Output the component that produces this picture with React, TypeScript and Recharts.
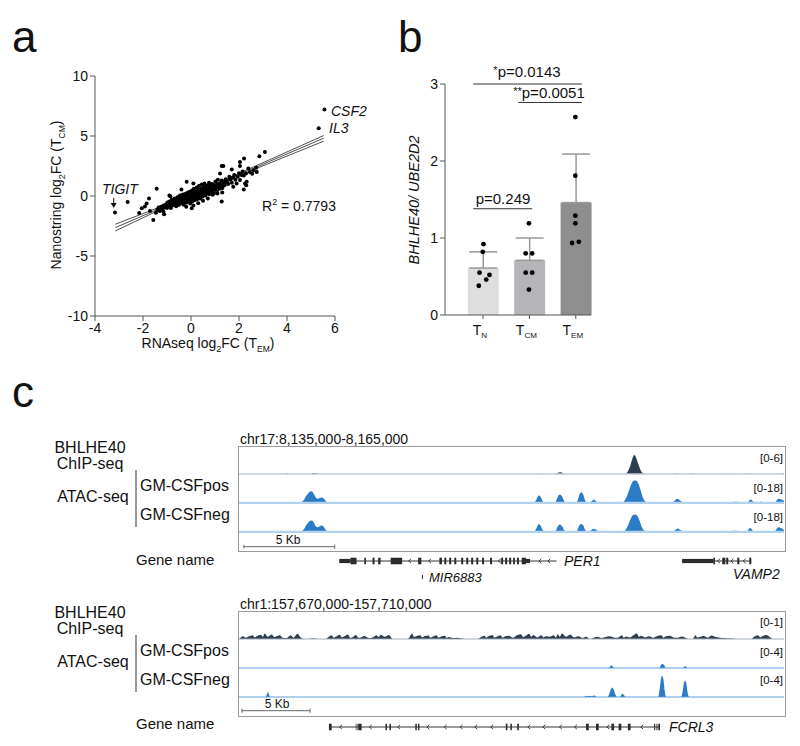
import React from 'react';
import {
  ComposedChart, AreaChart, Area, Scatter, Bar, Cell, ErrorBar,
  XAxis, YAxis, ReferenceLine, ReferenceArea,
} from 'recharts';

const FONT = '"Liberation Sans", Arial, Helvetica, sans-serif';
const INK = '#111';

/* ======================= panel a : data ======================= */
const xTicksA = [-4, -2, 0, 2, 4, 6];
const yTicksA = [-10, -5, 0, 5, 10];
// [RNAseq log2FC, Nanostring log2FC]
const labelledGenes = [[5.56, 7.2], [5.32, 5.65], [-3.17, -1.38]]; // CSF2, IL3, TIGIT
const leftGenes = [
  [-2.64, -0.5], [-2.16, -1.42], [-2.05, -1.02], [-1.92, -0.88], [-1.85, -0.62], [-1.75, -0.2],
  [-1.71, -1.25], [-1.57, -2.0], [-1.46, -1.4], [-1.43, 0.6], [-1.4, -1.15], [-1.35, -0.95],
  [-1.3, -1.25], [-1.3, -1.05], [-1.25, -0.9], [-1.22, -1.05], [-1.2, -1.15], [-1.15, -1.3],
  [-1.15, -0.8], [-1.12, -1.52], [-1.1, -0.95], [-1.05, -0.7], [-1.0, -1.0], [-0.98, -0.55],
  [-0.95, -0.85], [-0.9, 0.05], [-0.9, -0.45], [-0.88, -0.7], [-0.86, -0.02], [-0.85, -0.95], [-0.84, -1.0],
];
const centreGenes = [
  [-0.82, -0.55], [-0.8, -0.3], [-0.78, -0.8], [-0.75, -0.62], [-0.72, -0.4], [-0.7, -0.7], [-0.68, -0.2],
  [-0.65, -0.55], [-0.62, -0.85], [-0.6, -0.35], [-0.58, -0.6], [-0.56, -0.1], [-0.55, -0.45], [-0.52, -0.75],
  [-0.5, -0.3], [-0.48, -0.5], [-0.46, 0.05], [-0.45, -0.65], [-0.42, -0.2], [-0.4, -0.4], [-0.4, 0.55],
  [-0.38, -0.55], [-0.36, 0.1], [-0.35, -0.3], [-0.33, -0.1], [-0.3, -0.45], [-0.3, -0.72], [-0.28, 0.15],
  [-0.26, -0.25], [-0.25, -0.05], [-0.22, -0.4], [-0.2, 0.2], [-0.2, -0.15], [-0.2, -0.9], [-0.18, -0.55],
  [-0.18, 1.19], [-0.15, 0.0], [-0.14, -0.3], [-0.12, 0.3], [-0.1, -0.1], [-0.1, -0.45], [-0.08, 0.1],
  [-0.06, -0.2], [-0.05, 0.35], [-0.04, -0.62], [-0.02, 0.05], [0.0, -0.3], [0.0, 0.2], [0.02, -0.1],
  [0.03, -1.02], [0.04, 0.45], [0.05, -0.45], [0.06, 0.1], [0.08, -0.2], [0.1, 0.3], [0.1, -0.05],
  [0.1, 1.05], [0.1, -0.8], [0.12, 0.6], [0.14, -0.35], [0.15, 0.15], [0.16, 0.0], [0.18, 0.4],
  [0.2, -0.15], [0.2, 0.25], [0.22, 0.05], [0.24, 0.7], [0.25, -0.3], [0.26, 0.35], [0.28, 0.15],
  [0.3, 0.5], [0.3, -0.1], [0.3, -0.6], [0.32, 0.25], [0.34, 0.85], [0.35, 0.05], [0.36, 0.4],
  [0.38, -0.2], [0.4, 0.3], [0.4, 0.6], [0.42, 0.1], [0.44, 0.45], [0.45, 0.95], [0.46, 0.2],
  [0.48, -0.05], [0.5, 0.55], [0.5, 0.35], [0.5, -0.4], [0.52, 0.75], [0.54, 0.15], [0.55, 0.5],
  [0.56, 1.05], [0.58, 0.3], [0.6, 0.65], [0.6, 0.05], [0.62, 0.45], [0.64, 0.85], [0.65, 0.25],
  [0.68, 0.55], [0.7, 0.9], [0.7, 0.35], [0.7, -0.2], [0.72, 0.7], [0.75, 0.15], [0.75, 1.1],
  [0.78, 0.5], [0.79, 0.91], [0.8, 0.8], [0.82, 0.3], [0.85, 0.65], [0.88, 1.0], [0.9, 0.45],
  [0.9, 0.1], [0.92, 0.75], [0.95, 0.2], [0.98, 0.9], [1.0, 0.55], [1.02, 1.2], [1.05, 0.7],
  [1.08, 0.4], [1.1, 0.95], [1.1, 0.2], [1.12, 1.35], [1.15, 0.8], [1.18, 0.6], [1.2, 1.05],
  [1.25, 0.85], [1.28, 1.3], [1.3, 0.65], [1.3, 0.3], [1.35, 1.1], [1.4, 0.9],
];
const rightGenes = [
  [1.28, -0.45], [1.21, 1.88], [1.28, 2.49], [1.35, 2.49], [1.63, 1.47], [1.7, 2.2], [1.76, 0.77],
  [1.9, 1.05], [2.04, 2.84], [2.04, 2.49], [2.04, 1.33], [2.21, 3.12], [2.25, 1.05], [2.29, 1.88],
  [2.32, 1.19], [2.39, 2.29], [2.6, 2.15], [2.74, 2.01], [2.85, 3.31], [3.08, 3.67], [2.3, 0.89],
  [2.72, 2.35], [2.2, 0.55], [1.95, 1.6], [2.1, 1.75], [2.45, 2.0], [2.15, 2.05], [1.85, 1.35],
  [1.55, 1.0], [1.6, 1.6], [1.45, 1.25], [1.65, 1.35], [1.75, 1.55], [1.4, 1.05], [1.35, 0.85],
  [1.8, 1.75], [2.0, 1.9], [2.2, 1.7], [2.55, 1.85], [1.5, 1.2], [1.45, 1.4], [1.7, 1.1],
];
const fitMid = [[-3.15, -2.63], [5.53, 4.82]];
const fitUpper = [[-3.15, -2.35], [-1.5, -1.08], [0.3, 0.39], [2.5, 2.33], [5.53, 5.04]];
const fitLower = [[-3.15, -2.91], [-1.5, -1.34], [0.3, 0.27], [2.5, 2.11], [5.53, 4.57]];

/* ======================= panel b : data ======================= */
const groupSubs = ['N', 'CM', 'EM'];
const groupMean = [0.61, 0.71, 1.46];
const groupSD = [0.21, 0.29, 0.63];
const dotsTN = [0.92, 0.82, 0.55, 0.46, 0.52, 0.38];
const dotsTCM = [1.19, 0.8, 0.8, 0.55, 0.55, 0.33];
const dotsTEM = [2.57, 1.81, 1.29, 1.19, 0.935, 0.95];
const jitterTN = [0.01, -0.005, -0.075, 0.07, 0.14, -0.09];
const jitterTCM = [-0.01, 0.06, -0.08, -0.08, 0.06, -0.01];
const jitterTEM = [-0.01, -0.01, -0.01, -0.01, -0.08, 0.065];
const sigTests = [
  { from: -0.21, to: 2.13, y: 3.0 },
  { from: 0.76, to: 2.13, y: 2.76 },
  { from: -0.21, to: 1.06, y: 1.38 },
];

/* ======================= panel c : data (kb from window start) ======================= */
const chipTop = [
  [0, 0], [2.55, 0], [2.62, 0.15], [2.7, 0], [4.0, 0], [4.08, 0.15], [4.25, 0.15], [4.3, 0],
  [16.5, 0], [16.57, 0.12], [16.64, 0], [17.45, 0], [17.55, 0.25], [17.66, 0.4], [17.78, 0.3], [17.9, 0],
  [21.3, 0], [21.42, 0.7], [21.55, 2.0], [21.66, 3.5], [21.76, 4.2], [21.86, 3.6], [21.98, 2.2],
  [22.1, 0.9], [22.22, 0.2], [22.3, 0], [24.0, 0], [24.07, 0.12], [24.14, 0],
  [24.85, 0], [24.92, 0.12], [25.0, 0], [26.85, 0], [26.92, 0.12], [27.0, 0], [27.85, 0], [27.92, 0.12],
  [28.0, 0], [29.85, 0], [29.92, 0.15], [30, 0],
];
const posTop = [
  [0, 0], [3.3, 0], [3.45, 0.6], [3.6, 2.5], [3.7, 4.8], [3.8, 6.2], [3.92, 7.6], [4.02, 7.7], [4.12, 6.0],
  [4.22, 3.8], [4.32, 2.8], [4.42, 3.1], [4.55, 3.6], [4.65, 3.2], [4.75, 1.6], [4.85, 0.4], [4.95, 0],
  [16.2, 0], [16.3, 0.8], [16.4, 3.0], [16.5, 5.0], [16.6, 4.2], [16.7, 1.5], [16.8, 0.2], [16.9, 0],
  [17.35, 0], [17.45, 1.2], [17.55, 4.2], [17.66, 5.6], [17.78, 4.4], [17.9, 1.4], [18.0, 0],
  [18.55, 0], [18.65, 2.0], [18.75, 5.8], [18.84, 7.1], [18.95, 5.5], [19.05, 1.8], [19.15, 0],
  [19.3, 0], [19.42, 1.3], [19.53, 2.4], [19.64, 1.4], [19.76, 0],
  [21.05, 0], [21.2, 1.2], [21.35, 4.5], [21.5, 9.5], [21.62, 13.2], [21.75, 15.0], [21.88, 14.8],
  [22.0, 12.5], [22.12, 8.0], [22.25, 3.2], [22.38, 0.8], [22.5, 0],
  [23.8, 0], [23.95, 1.2], [24.12, 2.9], [24.3, 1.5], [24.45, 0.3], [24.55, 0],
  [27.1, 0], [27.25, 0.8], [27.45, 0.9], [27.6, 0], [28.0, 0], [28.1, 1.8], [28.18, 2.4], [28.28, 1.2],
  [28.4, 0], [28.6, 0], [28.72, 1.0], [28.85, 0], [29.5, 0], [29.62, 2.2], [29.72, 2.9], [29.85, 2.3], [30, 1.5],
];
const negTop = [
  [0, 0], [3.3, 0], [3.45, 0.5], [3.6, 2.4], [3.7, 4.6], [3.8, 6.0], [3.92, 7.5], [4.02, 7.6], [4.12, 6.2],
  [4.22, 4.0], [4.32, 3.2], [4.42, 3.7], [4.55, 4.3], [4.65, 3.6], [4.75, 1.8], [4.85, 0.4], [4.95, 0],
  [9.68, 0], [9.76, 0.3], [9.84, 0],
  [16.2, 0], [16.3, 0.9], [16.4, 3.2], [16.5, 5.4], [16.6, 4.4], [16.7, 1.6], [16.8, 0.2], [16.9, 0],
  [17.35, 0], [17.45, 1.0], [17.55, 3.8], [17.66, 5.0], [17.78, 4.0], [17.9, 1.2], [18.0, 0],
  [18.55, 0], [18.65, 1.8], [18.75, 4.6], [18.84, 5.4], [18.95, 4.4], [19.05, 1.5], [19.15, 0],
  [19.25, 0], [19.38, 1.2], [19.5, 2.2], [19.62, 1.8], [19.76, 0.6], [19.9, 0],
  [21.1, 0], [21.25, 1.0], [21.4, 4.0], [21.55, 8.5], [21.68, 11.2], [21.8, 11.6], [21.92, 10.8],
  [22.05, 7.5], [22.18, 3.2], [22.32, 0.8], [22.45, 0],
  [23.85, 0], [24.0, 1.2], [24.15, 2.4], [24.3, 1.3], [24.45, 0.2], [24.55, 0],
  [26.9, 0], [27.1, 0.6], [27.3, 0.8], [27.5, 0.5], [27.6, 0], [27.95, 0], [28.05, 1.6], [28.14, 2.8],
  [28.25, 1.4], [28.38, 0], [28.6, 0], [28.72, 0.9], [28.85, 0], [29.45, 0], [29.6, 2.2], [29.7, 3.2],
  [29.82, 2.6], [30, 1.4],
];
const chipBottom = [
  [0, 0], [0.1, 0.05], [0.3, 0.1], [0.5, 0.05], [0.7, 0.09], [1.0, 0.14], [1.15, 0.06], [1.3, 0.1],
  [1.6, 0.16], [1.75, 0.08], [1.9, 0.2], [2.1, 0.08], [2.4, 0.17], [2.6, 0.07], [2.75, 0.1], [3.0, 0.14],
  [3.2, 0.05], [3.5, 0.04], [3.8, 0.14], [4.0, 0.05], [4.3, 0.19], [4.5, 0.07], [4.75, 0],
  [5.2, 0], [5.3, 0.02], [5.6, 0.02], [5.7, 0],
  [6.36, 0], [6.5, 0.05], [6.8, 0.14], [6.95, 0.05], [7.1, 0.08], [7.4, 0.16], [7.55, 0.06], [7.7, 0.09],
  [8.0, 0.17], [8.15, 0.05], [8.3, 0.06], [8.6, 0.15], [8.75, 0.05], [8.9, 0.05], [9.2, 0.11],
  [9.5, 0.04], [9.8, 0.06], [10.1, 0.14], [10.25, 0.07], [10.4, 0.16], [10.7, 0.08], [11.0, 0.15], [11.3, 0],
  [12.35, 0], [12.5, 0.06], [12.7, 0.2], [12.85, 0.07], [13.0, 0.1], [13.3, 0.14], [13.45, 0.06],
  [13.6, 0.1], [13.9, 0.13], [14.05, 0.05], [14.2, 0.08], [14.5, 0.14], [14.65, 0.05], [14.8, 0.08],
  [15.1, 0.12], [15.25, 0.04], [15.4, 0.07], [15.7, 0.04], [16.0, 0.05], [16.3, 0.02], [16.6, 0],
  [17.5, 0], [17.7, 0.05], [18.0, 0.12], [18.15, 0.05], [18.3, 0.1], [18.6, 0.15], [18.75, 0.05],
  [18.9, 0.08], [19.2, 0.14], [19.35, 0.05], [19.5, 0.09], [19.8, 0.12], [20.1, 0.05], [20.4, 0.14],
  [20.7, 0.18], [20.85, 0.07], [21.0, 0.1], [21.3, 0.19], [21.45, 0.08], [21.6, 0.15], [21.9, 0.06],
  [22.2, 0.14], [22.35, 0.06], [22.5, 0.1], [22.8, 0.08], [23.1, 0.14], [23.25, 0.06], [23.4, 0.18],
  [23.55, 0.08], [23.7, 0.2], [24.0, 0.08], [24.3, 0.17], [24.6, 0.06], [24.9, 0.1], [25.2, 0.04],
  [25.5, 0.08], [25.7, 0],
  [25.8, 0], [26.0, 0.04], [26.3, 0.08], [26.6, 0.04], [26.9, 0.07], [27.2, 0.1], [27.5, 0.06],
  [27.8, 0.05], [28.1, 0.14], [28.25, 0.05], [28.4, 0.09], [28.7, 0.06], [29.0, 0.16], [29.2, 0.2],
  [29.35, 0.08], [29.5, 0.12], [29.8, 0.06], [30.1, 0.1], [30.4, 0.05], [30.7, 0.11], [31.0, 0.14],
  [31.15, 0.05], [31.3, 0.09], [31.6, 0.12], [31.9, 0.06], [32.2, 0.05], [32.5, 0.09], [32.8, 0.04], [33.0, 0],
  [33.3, 0], [33.5, 0.14], [33.65, 0.05], [33.8, 0.07], [34.1, 0.11], [34.4, 0.05], [34.7, 0.13],
  [35.0, 0.07], [35.3, 0.05], [35.6, 0.04], [35.9, 0.02], [36.2, 0.02], [36.4, 0],
  [37.6, 0], [37.8, 0.08], [38.1, 0.14], [38.25, 0.06], [38.4, 0.1], [38.7, 0.15], [39.0, 0.06], [39.2, 0], [40, 0],
];
const posBottom = [
  [0, 0], [27.15, 0], [27.25, 0.25], [27.33, 0.42], [27.42, 0.25], [27.52, 0], [30.85, 0], [30.97, 0.45],
  [31.08, 0.6], [31.2, 0.45], [31.32, 0], [32.6, 0], [32.68, 0.2], [32.75, 0.28], [32.83, 0.15], [32.92, 0], [40, 0],
];
const negBottom = [
  [0, 0], [1.95, 0], [2.05, 0.4], [2.12, 0.75], [2.2, 0.4], [2.28, 0], [4.05, 0], [4.1, 0.05], [4.15, 0],
  [6.8, 0], [6.85, 0.05], [6.9, 0], [8.7, 0], [8.75, 0.05], [8.8, 0], [21.45, 0], [21.5, 0.05], [21.55, 0],
  [24.85, 0], [24.9, 0.05], [24.95, 0], [25.35, 0], [25.45, 0.18], [25.55, 0.1], [25.75, 0.2], [25.85, 0.12],
  [26.1, 0.22], [26.25, 0], [27.05, 0], [27.2, 0.6], [27.3, 1.2], [27.38, 1.42], [27.5, 1.1], [27.62, 0.4],
  [27.75, 0], [27.95, 0], [28.08, 0.35], [28.15, 0.47], [28.25, 0.3], [28.38, 0], [28.8, 0], [28.85, 0.05],
  [28.9, 0], [30.75, 0], [30.85, 0.8], [30.95, 2.4], [31.05, 3.15], [31.15, 2.6], [31.25, 0.9], [31.35, 0],
  [32.45, 0], [32.55, 0.7], [32.65, 2.0], [32.74, 2.45], [32.83, 2.0], [32.93, 0.6], [33.05, 0], [40, 0],
];
// gene models: [start kb, end kb, 'c' coding | 'u' UTR | 'g' grey]
const per1Exons = [
  [5.52, 6.14, 'u'], [6.14, 6.47, 'c'], [6.9, 6.99, 'c'], [7.35, 7.46, 'c'], [7.66, 7.79, 'c'],
  [8.35, 8.98, 'c'], [9.86, 10.04, 'c'], [11.03, 11.17, 'c'], [11.3, 11.41, 'c'], [11.57, 11.68, 'c'],
  [11.85, 11.96, 'c'], [12.23, 12.34, 'c'], [12.51, 12.62, 'c'], [12.78, 12.89, 'c'], [13.06, 13.17, 'c'],
  [13.38, 13.49, 'c'], [13.82, 13.93, 'c'], [14.43, 14.54, 'c'], [14.65, 14.76, 'c'], [14.87, 14.98, 'c'],
  [15.09, 15.19, 'c'], [15.3, 15.41, 'c'], [15.56, 15.8, 'c'], [15.8, 16.02, 'u'],
];
const vamp2Exons = [
  [24.39, 26.11, 'u'], [26.11, 26.2, 'c'], [26.6, 26.77, 'c'], [26.82, 26.93, 'c'], [27.43, 27.54, 'c'], [28.09, 28.2, 'c'],
];
const topIntrons = [[5.52, 17.48], [24.39, 28.2]];
const topChevrons = [9.4, 10.5, 14.33, 16.57, 17.06, 26.4, 27.14, 27.81];
const mir6883 = [10.1];
const fcrl3Exons = [
  [6.6, 6.8, 'c'], [8.55, 8.75, 'g'], [8.75, 9.0, 'c'], [10.75, 10.86, 'c'], [11.04, 11.15, 'c'],
  [12.94, 13.05, 'c'], [13.14, 13.24, 'c'], [19.58, 19.7, 'c'], [19.92, 20.03, 'c'], [20.42, 20.54, 'c'],
  [25.47, 25.67, 'c'], [26.2, 26.4, 'c'], [27.33, 27.53, 'c'], [27.86, 28.06, 'c'], [28.54, 28.74, 'c'],
  [30.47, 30.55, 'c'], [30.64, 30.71, 'c'], [30.78, 30.9, 'c'],
];
const bottomIntrons = [[6.6, 30.9]];
const bottomChevrons = [7.46, 9.65, 11.72, 13.87, 15.14, 16.31, 17.38, 18.55, 21.28, 22.38, 23.6, 24.7, 27.08, 29.57];

/* ======================= helpers ======================= */
const toXY = (arr: number[][]) => arr.map(([x, y]) => ({ x, y }));
const blackDot = (r: number) => (p: any) => <circle cx={p.cx} cy={p.cy} r={r} fill="#000" />;
const noShape = () => <g />;
const chevron = (p: any) => (
  <path d={`M${p.cx + 1.4},${p.cy - 2.2} L${p.cx - 1.1},${p.cy} L${p.cx + 1.4},${p.cy + 2.2}`}
    fill="none" stroke="#333" strokeWidth={0.9} />
);
const axisTick = { fill: INK, fontSize: 14, fontFamily: FONT };

const TTick = (props: any) => {
  const { x, y, index } = props;
  const sub = groupSubs[index] ?? '';
  return (
    <text x={x - 3} y={y + 14} textAnchor="middle" fontFamily={FONT} fill={INK} fontSize={14}>
      T<tspan fontSize={8} dy={3}>{sub}</tspan>
    </text>
  );
};

const Pos = ({ left, top, children }: any) => (
  <div style={{ position: 'absolute', left, top }}>{children}</div>
);

/* ======================= panel a ======================= */
function PanelA() {
  const pts = toXY([...labelledGenes, ...leftGenes, ...centreGenes, ...rightGenes]);
  return (
    <Pos left={0} top={0}>
      <ComposedChart width={360} height={370} margin={{ top: 76, right: 25, left: 0, bottom: 24 }}>
        <XAxis type="number" dataKey="x" domain={[-4, 6]} ticks={xTicksA} allowDataOverflow
          stroke="#555" tickSize={5} height={30} tick={axisTick} />
        <YAxis type="number" dataKey="y" domain={[-10, 10]} ticks={yTicksA} allowDataOverflow
          stroke="#555" tickSize={5} width={95} tick={axisTick} />
        <Scatter data={toXY(fitUpper)} line={{ stroke: '#222', strokeWidth: 0.8 }} lineType="joint" shape={noShape} isAnimationActive={false} />
        <Scatter data={toXY(fitMid)} line={{ stroke: '#222', strokeWidth: 0.8 }} lineType="joint" shape={noShape} isAnimationActive={false} />
        <Scatter data={toXY(fitLower)} line={{ stroke: '#222', strokeWidth: 0.8 }} lineType="joint" shape={noShape} isAnimationActive={false} />
        <Scatter data={pts} shape={blackDot(2)} isAnimationActive={false} />
      </ComposedChart>
    </Pos>
  );
}

/* ======================= panel b ======================= */
function PanelB() {
  const barData = groupMean.map((m, i) => ({ cat: 'T' + groupSubs[i], mean: m, err: [0, groupSD[i]] }));
  const dots = [
    ...dotsTN.map((v, j) => ({ x: 0 + jitterTN[j], y: v })),
    ...dotsTCM.map((v, j) => ({ x: 1 + jitterTCM[j], y: v })),
    ...dotsTEM.map((v, j) => ({ x: 2 + jitterTEM[j], y: v })),
  ];
  const colors = ['#dedede', '#b5b5b9', '#8e8e8e'];
  return (
    <Pos left={380} top={0}>
      <ComposedChart width={230} height={350} data={barData} margin={{ top: 84, right: 11, left: 0, bottom: 5 }}>
        <XAxis xAxisId="cat" type="category" dataKey="cat" padding={{ left: 14.75, right: 0 }}
          axisLine={false} stroke="#555" tickSize={4} height={30} tick={<TTick />} interval={0} />
        <XAxis xAxisId="num" type="number" dataKey="x" domain={[-0.819, 2.5]} hide allowDataOverflow />
        <YAxis type="number" domain={[0, 3]} ticks={[0, 1, 2, 3]} allowDataOverflow
          stroke="#555" tickSize={5} width={65} tick={axisTick} />
        <ReferenceLine xAxisId="num" segment={[{ x: -0.819, y: 0 }, { x: 2.33, y: 0 }]} stroke="#555" strokeWidth={1} ifOverflow="visible" />
        <Bar xAxisId="cat" dataKey="mean" barSize={31} isAnimationActive={false}>
          {barData.map((_, i) => <Cell key={i} fill={colors[i]} />)}
          <ErrorBar dataKey="err" direction="y" width={14} stroke="#999" strokeWidth={1.5} />
        </Bar>
        <Scatter xAxisId="num" data={dots} dataKey="y" shape={blackDot(2.4)} isAnimationActive={false} />
        {sigTests.map((s, i) => (
          <ReferenceLine key={i} xAxisId="num" segment={[{ x: s.from, y: s.y }, { x: s.to, y: s.y }]}
            stroke="#333" strokeWidth={1} ifOverflow="visible" />
        ))}
      </ComposedChart>
    </Pos>
  );
}

/* ======================= panel c ======================= */
function Track({ data, max, xMax, fill, base, baseW, left, top }: any) {
  return (
    <Pos left={left} top={top}>
      <AreaChart width={545} height={28} data={toXY(data)} margin={{ top: 0, right: 0, left: 0, bottom: 1 }}>
        <XAxis type="number" dataKey="x" domain={[0, xMax]} hide allowDataOverflow />
        <YAxis type="number" domain={[0, max]} hide allowDataOverflow />
        <ReferenceLine y={0} stroke={base} strokeWidth={baseW} ifOverflow="visible" />
        <Area dataKey="y" type="monotone" stroke="none" fill={fill} fillOpacity={1} baseValue={0}
          isAnimationActive={false} dot={false} activeDot={false} />
      </AreaChart>
    </Pos>
  );
}

function GeneRow({ xMax, exons, introns, chevrons, ticks, bar, left, top }: any) {
  const half: any = { c: 3.3, u: 2.1, g: 3.3 };
  const col: any = { c: '#2a2a2a', u: '#2a2a2a', g: '#9a9a9a' };
  return (
    <Pos left={left} top={top}>
      <ComposedChart width={545} height={42} margin={{ top: 0, right: 0, left: 0, bottom: 0 }}>
        <XAxis type="number" dataKey="x" domain={[0, xMax]} hide allowDataOverflow />
        <YAxis type="number" dataKey="y" domain={[-21, 21]} hide allowDataOverflow />
        {introns.map(([a, b]: number[], i: number) => (
          <ReferenceLine key={'i' + i} segment={[{ x: a, y: 0 }, { x: b, y: 0 }]} stroke="#333" strokeWidth={1} ifOverflow="visible" />
        ))}
        {exons.map(([a, b, t]: any[], i: number) => (
          <ReferenceArea key={'e' + i} x1={a} x2={b} y1={-half[t]} y2={half[t]} fill={col[t]} fillOpacity={1}
            stroke="none" ifOverflow="visible" />
        ))}
        {ticks.map((t: number, i: number) => (
          <ReferenceLine key={'t' + i} segment={[{ x: t, y: -14 }, { x: t, y: -18 }]} stroke="#333" strokeWidth={1} ifOverflow="visible" />
        ))}
        <ReferenceLine segment={[{ x: bar[0], y: bar[1] }, { x: bar[0] + 5, y: bar[1] }]} stroke="#666" strokeWidth={1} ifOverflow="visible" />
        <ReferenceLine segment={[{ x: bar[0], y: bar[1] - 2 }, { x: bar[0], y: bar[1] + 2 }]} stroke="#666" strokeWidth={1} ifOverflow="visible" />
        <ReferenceLine segment={[{ x: bar[0] + 5, y: bar[1] - 2 }, { x: bar[0] + 5, y: bar[1] + 2 }]} stroke="#666" strokeWidth={1} ifOverflow="visible" />
        <Scatter data={chevrons.map((c: number) => ({ x: c, y: 0 }))} shape={chevron} isAnimationActive={false} />
      </ComposedChart>
    </Pos>
  );
}

function PanelC() {
  const L = 239;
  const chip = '#2d3e4f';
  const atac = '#2b7bc5';
  return (
    <>
      <div style={{ position: 'absolute', left: 238, top: 446, width: 546, height: 104, border: '1px solid #9a9a9a' }} />
      <div style={{ position: 'absolute', left: 238, top: 611, width: 546, height: 104, border: '1px solid #9a9a9a' }} />
      <Track data={chipTop} max={6} xMax={30} fill={chip} base="#c2cad3" baseW={1.6} left={L} top={447} />
      <Track data={posTop} max={18} xMax={30} fill={atac} base="#b3d2ee" baseW={2.5} left={L} top={476} />
      <Track data={negTop} max={18} xMax={30} fill={atac} base="#b3d2ee" baseW={2.5} left={L} top={505} />
      <GeneRow xMax={30} exons={[...per1Exons, ...vamp2Exons]} introns={topIntrons} chevrons={topChevrons}
        ticks={mir6883} bar={[0.27, 14.3]} left={L} top={540} />
      <Track data={chipBottom} max={1} xMax={40} fill={chip} base="#a3aeb9" baseW={1} left={L} top={612} />
      <Track data={posBottom} max={4} xMax={40} fill={atac} base="#5e9dd8" baseW={1.2} left={L} top={641} />
      <Track data={negBottom} max={4} xMax={40} fill={atac} base="#5e9dd8" baseW={1.2} left={L} top={670} />
      <GeneRow xMax={40} exons={fcrl3Exons} introns={bottomIntrons} chevrons={bottomChevrons}
        ticks={[]} bar={[0.22, 16.3]} left={L} top={706} />
    </>
  );
}

/* ======================= text overlay ======================= */
function Overlay() {
  const t = { fontFamily: FONT, fill: INK } as any;
  const trackLabels = (y0: number) => (
    <>
      <text {...t} x={90} y={y0 + 5} fontSize={16} textAnchor="middle">BHLHE40</text>
      <text {...t} x={90} y={y0 + 21} fontSize={16} textAnchor="middle">ChIP-seq</text>
      <text {...t} x={93} y={y0 + 54} fontSize={16} textAnchor="middle">ATAC-seq</text>
      <line x1={136} x2={136} y1={y0 + 22} y2={y0 + 79} stroke="#333" strokeWidth={1} />
      <text {...t} x={140} y={y0 + 43} fontSize={16}>GM-CSFpos</text>
      <text {...t} x={140} y={y0 + 72} fontSize={16}>GM-CSFneg</text>
    </>
  );
  return (
    <svg width={800} height={746} style={{ position: 'absolute', left: 0, top: 0, pointerEvents: 'none' }}>
      {/* panel letters */}
      <text {...t} x={12} y={52} fontSize={44}>a</text>
      <text {...t} x={398} y={52} fontSize={44}>b</text>
      <text {...t} x={12} y={407} fontSize={44}>c</text>

      {/* panel a */}
      <text {...t} fontSize={14} textAnchor="middle" transform="translate(61,195) rotate(-90)">
        Nanostring log<tspan fontSize={9} dy={4}>2</tspan><tspan dy={-4}>FC (T</tspan>
        <tspan fontSize={8.5} dy={4}>CM</tspan><tspan dy={-4}>)</tspan>
      </text>
      <text {...t} x={208} y={348} fontSize={14} textAnchor="middle">
        RNAseq log<tspan fontSize={9} dy={4}>2</tspan><tspan dy={-4}>FC (T</tspan>
        <tspan fontSize={8.5} dy={4}>EM</tspan><tspan dy={-4}>)</tspan>
      </text>
      <text {...t} x={331} y={115.5} fontSize={14} fontStyle="italic">CSF2</text>
      <text {...t} x={329} y={132.5} fontSize={14} fontStyle="italic">IL3</text>
      <text {...t} x={102} y={194} fontSize={14} fontStyle="italic">TIGIT</text>
      <line x1={113.7} x2={113.7} y1={198} y2={204} stroke="#111" strokeWidth={1} />
      <path d="M110.7,203 L116.7,203 L113.7,208 Z" fill="#111" />
      <text {...t} x={262} y={210.5} fontSize={14}>
        R<tspan fontSize={9} dy={-6}>2</tspan><tspan dy={6}> = 0.7793</tspan>
      </text>

      {/* panel b */}
      <text {...t} fontSize={14.5} fontStyle="italic" textAnchor="middle" transform="translate(419,200) rotate(-90)">
        BHLHE40/ UBE2D2
      </text>
      <text {...t} x={527} y={77} fontSize={15} textAnchor="middle">
        <tspan fontSize={11} dy={-3}>*</tspan><tspan dy={3}>p=0.0143</tspan>
      </text>
      <text {...t} x={549} y={98} fontSize={15} textAnchor="middle">
        <tspan fontSize={11} dy={-3}>**</tspan><tspan dy={3}>p=0.0051</tspan>
      </text>
      <text {...t} x={503} y={204} fontSize={15} textAnchor="middle">p=0.249</text>

      {/* panel c, top browser */}
      <text {...t} x={240} y={444} fontSize={14}>chr17:8,135,000-8,165,000</text>
      {trackLabels(448)}
      <text {...t} x={136} y={565} fontSize={15}>Gene name</text>
      <text {...t} x={783} y={462} fontSize={11.5} textAnchor="end">[0-6]</text>
      <text {...t} x={783} y={492} fontSize={11.5} textAnchor="end">[0-18]</text>
      <text {...t} x={783} y={521} fontSize={11.5} textAnchor="end">[0-18]</text>
      <text {...t} x={288} y={544} fontSize={12} textAnchor="middle">5 Kb</text>
      <text {...t} x={564} y={566} fontSize={14} fontStyle="italic">PER1</text>
      <text {...t} x={429} y={582} fontSize={13} fontStyle="italic">MIR6883</text>
      <text {...t} x={733} y={579} fontSize={14} fontStyle="italic">VAMP2</text>

      {/* panel c, bottom browser */}
      <text {...t} x={240} y={609} fontSize={14}>chr1:157,670,000-157,710,000</text>
      {trackLabels(613)}
      <text {...t} x={136} y={729} fontSize={15}>Gene name</text>
      <text {...t} x={783} y={626} fontSize={11.5} textAnchor="end">[0-1]</text>
      <text {...t} x={783} y={656} fontSize={11.5} textAnchor="end">[0-4]</text>
      <text {...t} x={783} y={684} fontSize={11.5} textAnchor="end">[0-4]</text>
      <text {...t} x={277} y={708} fontSize={12} textAnchor="middle">5 Kb</text>
      <text {...t} x={669} y={732} fontSize={14} fontStyle="italic">FCRL3</text>
    </svg>
  );
}

export default function App() {
  return (
    <div style={{ position: 'absolute', left: 0, top: 0, width: 800, height: 746, background: '#fff', overflow: 'hidden', fontFamily: FONT }}>
      <PanelA />
      <PanelB />
      <PanelC />
      <Overlay />
    </div>
  );
}
